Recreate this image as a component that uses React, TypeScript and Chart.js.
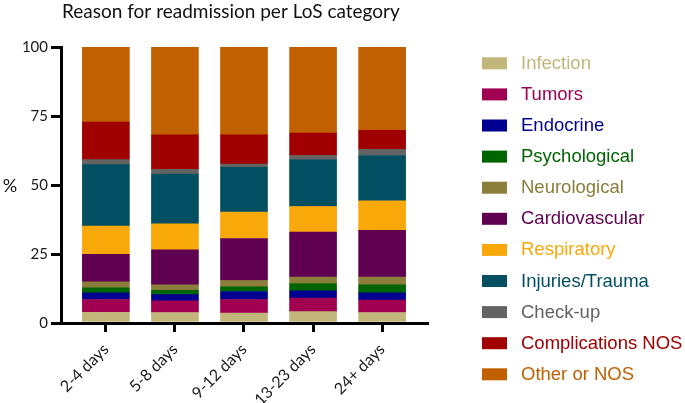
import React, { useEffect, useRef } from "react";
import { Chart, registerables } from "chart.js";

Chart.register(...registerables);

const title = "Reason for readmission per LoS category";
const yAxisLabel = "%";
const categories = ["2-4 days", "5-8 days", "9-12 days", "13-23 days", "24+ days"];
const yTicks = [0, 25, 50, 75, 100];

const reasons = [
  "Infection",
  "Tumors",
  "Endocrine",
  "Psychological",
  "Neurological",
  "Cardiovascular",
  "Respiratory",
  "Injuries/Trauma",
  "Check-up",
  "Complications NOS",
  "Other or NOS",
];

const infection = [3.9, 3.8, 3.6, 4.1, 3.8];
const tumors = [4.6, 4.2, 4.9, 4.9, 4.5];
const endocrine = [2.4, 2.3, 2.9, 2.7, 2.6];
const psychological = [1.8, 1.5, 1.7, 2.6, 2.9];
const neurological = [2.2, 2.0, 2.3, 2.3, 2.8];
const cardiovascular = [10.0, 12.7, 15.2, 16.3, 17.0];
const respiratory = [10.2, 9.4, 9.6, 9.3, 10.7];
const injuries = [22.3, 18.1, 16.2, 16.9, 16.4];
const checkup = [1.8, 1.7, 1.2, 1.6, 2.2];
const complications = [13.6, 12.5, 10.6, 8.1, 6.9];
const other = [27.2, 31.8, 31.8, 31.2, 30.2];

const seriesValues = [
  infection,
  tumors,
  endocrine,
  psychological,
  neurological,
  cardiovascular,
  respiratory,
  injuries,
  checkup,
  complications,
  other,
];

const colors = [
  "#c2b67a",
  "#a0004f",
  "#000090",
  "#006400",
  "#8b7d3a",
  "#600050",
  "#f9a80a",
  "#034f62",
  "#636363",
  "#a00000",
  "#c06000",
];

const AXIS_FONT = "Lato, 'Open Sans', sans-serif";

const decorPlugin = {
  id: "decor",
  afterDraw(chart: any) {
    const ctx = chart.ctx as CanvasRenderingContext2D;
    const area = chart.chartArea;
    ctx.save();
    // title
    ctx.fillStyle = "#111";
    ctx.font = `19px ${AXIS_FONT}`;
    ctx.textAlign = "left";
    ctx.textBaseline = "alphabetic";
    ctx.fillText(title, area.left + 1, 18);
    // y axis label
    ctx.font = `18px ${AXIS_FONT}`;
    ctx.textAlign = "center";
    ctx.textBaseline = "middle";
    ctx.fillText(yAxisLabel, 10, 186);
    // legend
    const ds = chart.data.datasets;
    const x0 = area.right + 55;
    const y0 = 63.3;
    const step = 31.1;
    ctx.font = "18.5px 'Liberation Sans', Arial, sans-serif";
    ctx.textAlign = "left";
    ctx.textBaseline = "middle";
    ds.forEach((d: any, i: number) => {
      const y = y0 + i * step;
      ctx.fillStyle = d.backgroundColor;
      ctx.fillRect(x0, y - 6, 25, 12);
      ctx.fillText(d.label, x0 + 39, y + 0.5);
    });
    ctx.restore();
  },
};

export default function App() {
  const ref = useRef<HTMLCanvasElement | null>(null);

  useEffect(() => {
    document.body.style.margin = "0";
    const canvas = ref.current;
    if (!canvas) return;
    const chart = new Chart(canvas, {
      type: "bar",
      data: {
        datasets: reasons.map((name, i) => ({
          label: name,
          data: seriesValues[i].map((v, j) => ({ x: j, y: v })),
          backgroundColor: colors[i],
          borderWidth: 0,
          barThickness: 47,
        })),
      },
      options: {
        responsive: false,
        animation: false,
        layout: { padding: { top: 47, right: 258, left: 0, bottom: 0 } },
        plugins: {
          legend: { display: false },
          title: { display: false },
          tooltip: { enabled: false },
        },
        scales: {
          x: {
            type: "linear",
            stacked: true,
            offset: false,
            min: -0.65,
            max: categories.length - 1 + 0.65,
            afterBuildTicks: (scale: any) => {
              scale.ticks = categories.map((_, i) => ({ value: i }));
            },
            afterFit: (scale: any) => {
              scale.height = 80;
            },
            grid: {
              offset: false,
              drawOnChartArea: false,
              drawTicks: true,
              tickLength: 9,
              color: "#000",
              lineWidth: 3,
            },
            border: { display: true, color: "#000", width: 3 },
            ticks: {
              autoSkip: false,
              minRotation: 45,
              maxRotation: 45,
              padding: 8,
              color: "#1a1a1a",
              font: { family: AXIS_FONT, size: 16 },
              callback: (v: any) => categories[Math.round(Number(v))] ?? "",
            },
          },
          y: {
            stacked: true,
            min: 0,
            max: 100,
            afterBuildTicks: (scale: any) => {
              scale.ticks = yTicks.map((v) => ({ value: v }));
            },
            afterFit: (scale: any) => {
              scale.width = 61;
            },
            grid: {
              drawOnChartArea: false,
              drawTicks: true,
              tickLength: 10,
              color: "#000",
              lineWidth: 3,
            },
            border: { display: true, color: "#000", width: 3 },
            ticks: {
              padding: 3,
              color: "#1a1a1a",
              font: { family: AXIS_FONT, size: 15 },
            },
          },
        },
      },
      plugins: [decorPlugin],
    } as any);
    return () => chart.destroy();
  }, []);

  return (
    <div style={{ width: 685, height: 403, background: "#fff" }}>
      <canvas ref={ref} width={685} height={403} style={{ display: "block" }} />
    </div>
  );
}
